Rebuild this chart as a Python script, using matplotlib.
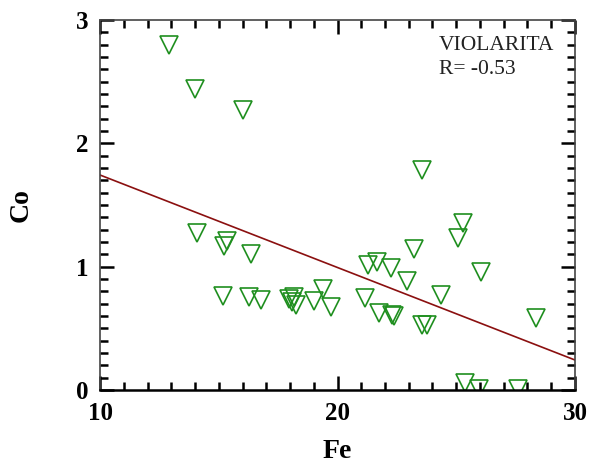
import matplotlib
matplotlib.use("Agg")
import matplotlib.pyplot as plt
import numpy as np
from matplotlib.ticker import MultipleLocator

# Fe vs Co values
fe = [12.9, 14.0, 16.0, 23.56, 14.07, 15.36, 15.24, 16.37, 15.19, 16.26,
      16.76, 17.96, 18.17, 18.07, 18.24, 19.02, 19.40, 19.71, 25.30, 25.06,
      23.22, 21.28, 21.68, 22.24, 22.91, 26.03, 21.16, 24.34, 21.75, 22.28,
      22.38, 23.57, 23.78, 28.36, 25.37, 25.97, 27.59]
co = [2.80, 2.44, 2.27, 1.78, 1.27, 1.21, 1.17, 1.10, 0.76, 0.75,
      0.73, 0.74, 0.75, 0.71, 0.69, 0.72, 0.82, 0.67, 1.35, 1.23,
      1.14, 1.01, 1.035, 0.99, 0.886, 0.96, 0.746, 0.77, 0.627, 0.608,
      0.60, 0.53, 0.53, 0.58, 0.06, 0.005, 0.005]

# regression line
fit_intercept = 2.493
fit_slope = -0.075
r_value = -0.53
label = "VIOLARITA"

plt.rcParams['font.family'] = ['Liberation Serif', 'DejaVu Serif']

fig = plt.figure(figsize=(6.08, 4.68), dpi=100)
ax = fig.add_axes([0.1645, 0.1667, 0.7812, 0.7906])

ax.plot(fe, co, linestyle='none', marker='v', markersize=12.5,
        markerfacecolor='none', markeredgecolor='#1f8f1f', markeredgewidth=1.2)

xs = np.array([10, 30])
ax.plot(xs, fit_intercept + fit_slope * xs, color='#8b1010', linewidth=1.2)

ax.set_xlim(10, 30)
ax.set_ylim(0, 3)
ax.xaxis.set_major_locator(MultipleLocator(10))
ax.xaxis.set_minor_locator(MultipleLocator(1))
ax.yaxis.set_major_locator(MultipleLocator(1))
ax.yaxis.set_minor_locator(MultipleLocator(0.1))
ax.tick_params(which='both', direction='in', top=True, right=True, width=1.8)
ax.tick_params(which='major', length=10)
ax.tick_params(which='minor', length=6)
ax.tick_params(axis='x', which='major', pad=9)
ax.tick_params(axis='y', which='major', pad=8)
for lab in ax.get_xticklabels() + ax.get_yticklabels():
    lab.set_fontweight('bold')
    lab.set_fontsize(18)

for side in ['top', 'right', 'left']:
    ax.spines[side].set_color('#444444')
    ax.spines[side].set_linewidth(1.2)
ax.spines['bottom'].set_linewidth(1.8)

ax.set_xlabel('Fe', fontsize=20, fontweight='bold', labelpad=10)
ax.set_ylabel('Co', fontsize=20, fontweight='bold', labelpad=31)

ax.text(0.713, 0.93, label, transform=ax.transAxes, fontsize=15.5,
        color='#222222', va='center')
ax.text(0.713, 0.865, f"R= {r_value:.2f}", transform=ax.transAxes, fontsize=15.5,
        color='#222222', va='center')

fig.savefig('out.png', dpi=100)
